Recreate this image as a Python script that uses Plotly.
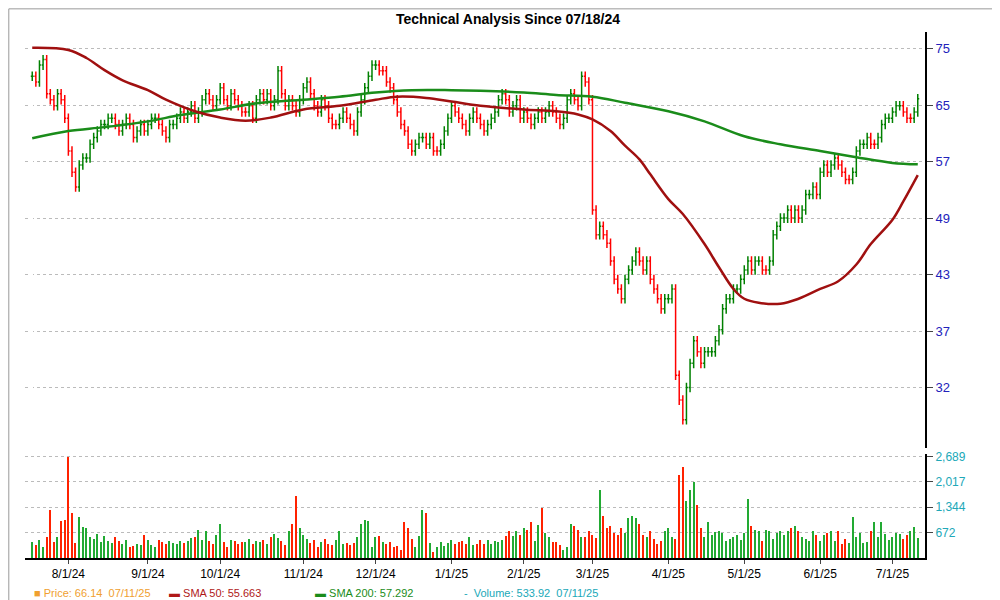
import pandas as pd
import plotly.graph_objects as go
from plotly.subplots import make_subplots

# ---- data ----
close_jul24 = [70, 69, 72, 73, 67, 66, 65, 67, 66, 63]
close_aug24 = [58, 55, 53, 56, 57, 57, 59, 60, 61, 62, 62, 63, 63, 62, 61, 62, 63, 62, 60, 61, 62, 61]
close_sep24 = [62, 63, 63, 62, 61, 60, 62, 62, 63, 64, 63, 64, 65, 63, 64, 66, 67, 66, 65, 66]
close_oct24 = [68, 66, 65, 67, 66, 65, 64, 64, 65, 63, 66, 67, 66, 67, 65, 66, 71, 67, 65, 66, 65, 64, 66]
close_nov24 = [68, 69, 67, 65, 64, 66, 65, 63, 62, 62, 63, 64, 63, 62, 61, 64, 66, 68, 70, 72]
close_dec24 = [72, 71, 71, 69, 68, 66, 64, 62, 61, 59, 58, 59, 60, 60, 59, 60, 58, 58, 59, 61, 63]
close_jan25 = [65, 64, 63, 62, 61, 63, 64, 63, 62, 61, 62, 63, 64, 66, 67, 66, 64, 65, 66, 63]
close_feb25 = [64, 63, 62, 63, 64, 63, 64, 65, 64, 63, 62, 63, 66, 67, 66, 65, 70, 69, 66]
close_mar25 = [50, 47, 48, 47, 46, 44, 42, 41, 40, 42, 43, 44, 45, 44, 43, 44, 42, 41, 40, 39, 40]
close_apr25 = [40, 41, 33, 31, 29.5, 32, 34, 36, 35, 34, 35, 35, 35, 36, 37, 39, 40, 40, 41, 41, 42]
close_may25 = [43, 44, 43, 44, 44, 43, 43, 44, 47, 48, 49, 49, 50, 49, 50, 49, 50, 52, 52, 53, 52]
close_jun25 = [55, 56, 55, 56, 57, 56, 55, 54, 54, 55, 58, 59, 59, 60, 59, 59, 60, 62, 63, 63]
close_jul25 = [64, 65, 65, 64, 63, 63, 64, 66.14]

vol_jul24 = [420, 350, 480, 300, 560, 1260, 430, 550, 980, 1000]
vol_aug24 = [2680, 1200, 400, 1080, 830, 790, 550, 500, 640, 420, 580, 450, 400, 560, 450, 380, 470, 300, 310, 380, 350, 620]
vol_sep24 = [480, 350, 300, 480, 430, 380, 450, 400, 380, 460, 400, 440, 520, 560, 750, 480, 700, 450, 360, 600]
vol_oct24 = [900, 420, 300, 480, 450, 360, 430, 420, 500, 380, 460, 420, 480, 380, 560, 640, 520, 440, 350, 700, 900, 1640, 800]
vol_nov24 = [600, 500, 400, 480, 300, 420, 500, 380, 350, 470, 720, 380, 400, 330, 400, 560, 900, 1000, 980, 300]
vol_dec24 = [560, 580, 420, 360, 430, 300, 320, 220, 960, 780, 500, 300, 580, 1280, 1200, 400, 150, 300, 420, 320, 400]
vol_jan25 = [470, 380, 420, 460, 370, 560, 350, 380, 480, 380, 470, 380, 460, 420, 480, 580, 720, 580, 700, 600]
vol_feb25 = [800, 740, 950, 450, 880, 1320, 650, 560, 430, 430, 330, 220, 300, 900, 840, 750, 550, 550, 700]
vol_mar25 = [600, 530, 1800, 1100, 800, 850, 650, 600, 800, 650, 1050, 1100, 1050, 900, 600, 550, 700, 500, 380, 450, 700]
vol_apr25 = [800, 550, 500, 2200, 2400, 1500, 1800, 2000, 1400, 800, 550, 950, 600, 680, 700, 650, 450, 500, 550, 600, 480]
vol_may25 = [650, 1550, 850, 750, 700, 450, 750, 700, 500, 650, 700, 600, 700, 800, 850, 700, 550, 500, 450, 700, 600]
vol_jun25 = [450, 620, 650, 700, 450, 700, 380, 500, 400, 1080, 550, 650, 400, 420, 700, 950, 550, 950, 640, 480]
vol_jul25 = [550, 650, 640, 500, 620, 700, 830, 534]

sma50_dates = ["2024-07-18", "2024-08-01", "2024-08-08", "2024-08-15", "2024-08-22", "2024-09-03", "2024-09-10",
               "2024-09-20", "2024-10-01", "2024-10-10", "2024-10-21", "2024-11-01", "2024-11-15", "2024-12-02",
               "2024-12-10", "2024-12-20", "2025-01-02", "2025-01-15", "2025-02-03", "2025-02-14", "2025-02-25",
               "2025-03-03", "2025-03-10", "2025-03-14", "2025-03-20", "2025-03-25", "2025-04-01", "2025-04-07",
               "2025-04-15", "2025-04-22", "2025-04-28", "2025-05-01", "2025-05-07", "2025-05-15", "2025-05-22",
               "2025-06-02", "2025-06-09", "2025-06-16", "2025-06-23", "2025-07-01", "2025-07-07", "2025-07-11"]
sma50_vals = [75.2, 74.8, 73.3, 71.1, 69.3, 67.6, 66.0, 64.1, 63.1, 62.6, 63.1, 64.4, 65.0, 66.0, 66.5, 66.3,
              65.7, 65.0, 64.4, 64.1, 63.6, 62.8, 61.0, 58.8, 56.8, 54.7, 51.4, 49.5, 45.9, 43.3, 41.0, 40.0,
              39.6, 39.5, 40.0, 41.0, 41.8, 43.6, 45.9, 48.8, 51.1, 54.6]
sma200_dates = ["2024-07-18", "2024-08-01", "2024-08-15", "2024-09-03", "2024-09-16", "2024-10-01", "2024-10-15",
                "2024-11-01", "2024-11-15", "2024-12-02", "2024-12-16", "2025-01-02", "2025-01-15", "2025-02-03",
                "2025-02-14", "2025-03-03", "2025-03-14", "2025-04-01", "2025-04-15", "2025-05-01", "2025-05-15",
                "2025-06-02", "2025-06-16", "2025-07-01", "2025-07-11"]
sma200_vals = [59.9, 61.0, 61.6, 62.5, 63.5, 64.4, 65.4, 66.0, 66.5, 67.2, 67.6, 67.6, 67.5, 67.2, 66.8, 66.5,
               65.5, 64.1, 62.5, 60.2, 59.0, 58.0, 57.1, 56.3, 56.1]

price_ticks = [32, 37, 43, 49, 57, 65, 75]
vol_ticks = [672, 1344, 2017, 2689]
vol_tick_labels = ["672", "1,344", "2,017", "2,689"]
month_ticks = ["8/1/24", "9/1/24", "10/1/24", "11/1/24", "12/1/24", "1/1/25", "2/1/25",
               "3/1/25", "4/1/25", "5/1/25", "6/1/25", "7/1/25"]

holidays = ["2024-09-02", "2024-11-28", "2024-12-25", "2025-01-01", "2025-01-09", "2025-01-20",
            "2025-02-17", "2025-04-18", "2025-05-26", "2025-06-19", "2025-07-04"]

# ---- build ----
closes = (close_jul24 + close_aug24 + close_sep24 + close_oct24 + close_nov24 + close_dec24 + close_jan25
          + close_feb25 + close_mar25 + close_apr25 + close_may25 + close_jun25 + close_jul25)
vols = (vol_jul24 + vol_aug24 + vol_sep24 + vol_oct24 + vol_nov24 + vol_dec24 + vol_jan25
        + vol_feb25 + vol_mar25 + vol_apr25 + vol_may25 + vol_jun25 + vol_jul25)
dates = [d for d in pd.bdate_range("2024-07-18", "2025-07-11") if d.strftime("%Y-%m-%d") not in holidays]
n = min(len(dates), len(closes), len(vols))
dates, closes, vols = dates[:n], closes[:n], vols[:n]
idx = list(range(n))

opens = [closes[0]] + closes[:-1]
highs = [max(o, c) * 1.012 for o, c in zip(opens, closes)]
lows = [min(o, c) * 0.988 for o, c in zip(opens, closes)]
vcol = ["#22aa33" if c >= o else "#ff2200" for o, c in zip(opens, closes)]

def pos_of(ds):
    out = []
    for s in ds:
        t = pd.Timestamp(s)
        i = next((k for k, d in enumerate(dates) if d >= t), n - 1)
        out.append(i)
    return out

r = (75 / 32) ** (1 / 6)
price_tickvals = [32 * r ** k for k in range(7)]
mtick_pos = pos_of(["2024-08-01", "2024-09-01", "2024-10-01", "2024-11-01", "2024-12-01", "2025-01-01",
                    "2025-02-01", "2025-03-01", "2025-04-01", "2025-05-01", "2025-06-01", "2025-07-01"])

fig = make_subplots(rows=2, cols=1, shared_xaxes=True, row_heights=[0.8, 0.2], vertical_spacing=0.012)
fig.add_trace(go.Ohlc(x=idx, open=opens, high=highs, low=lows, close=closes,
                      increasing=dict(line=dict(color="#008000", width=1.5)),
                      decreasing=dict(line=dict(color="#ff0000", width=1.5)),
                      tickwidth=0.4, showlegend=False), row=1, col=1)
fig.add_trace(go.Scatter(x=pos_of(sma200_dates), y=sma200_vals, mode="lines",
                         line=dict(color="#1a8c1a", width=2.5, shape="spline"), showlegend=False), row=1, col=1)
fig.add_trace(go.Scatter(x=pos_of(sma50_dates), y=sma50_vals, mode="lines",
                         line=dict(color="#a01010", width=2.5, shape="spline"), showlegend=False), row=1, col=1)
fig.add_trace(go.Bar(x=idx, y=vols, marker=dict(color=vcol, line_width=0), width=0.35, showlegend=False),
              row=2, col=1)

fig.update_layout(
    width=1000, height=600, paper_bgcolor="white", plot_bgcolor="white",
    margin=dict(l=17, r=83, t=24, b=50),
    title=dict(text="<b>Technical Analysis Since 07/18/24</b>", x=0.5, y=0.982, yanchor="middle", xanchor="center",
               font=dict(family="Arial, Liberation Sans", size=14, color="black")),
    font=dict(family="Arial, Liberation Sans", size=12),
    bargap=0,
)
fig.update_xaxes(range=[-2, n + 1], showgrid=False, rangeslider_visible=False, row=1, col=1,
                 tickvals=mtick_pos, showticklabels=False)
fig.update_xaxes(range=[-2, n + 1], showgrid=False, tickvals=mtick_pos, ticktext=month_ticks,
                 ticks="outside", ticklen=4, showline=True, linecolor="black", linewidth=2,
                 tickfont=dict(color="black", size=12), row=2, col=1)
fig.update_yaxes(type="log", side="right", range=[1.4393, 1.8935],
                 tickvals=price_tickvals, ticktext=[str(v) for v in price_ticks],
                 tickfont=dict(color="#2222bb", size=13), showgrid=True, gridcolor="#bbbbbb", griddash="dot",
                 showline=True, linecolor="black", linewidth=2, ticks="outside", ticklen=6, row=1, col=1)
fig.update_yaxes(side="right", range=[0, 2750], tickvals=vol_ticks, ticktext=vol_tick_labels,
                 tickfont=dict(color="#20a8b8", size=12), showgrid=True, gridcolor="#bbbbbb", griddash="dot",
                 showline=True, linecolor="black", linewidth=2, ticks="outside", ticklen=6, row=2, col=1)

anns = [("■ Price: 66.14  07/11/25", "#f0a030", 0.008),
        ("▬ SMA 50: 55.663", "#b01818", 0.158),
        ("▬ SMA 200: 57.292", "#1a8c1a", 0.32),
        ("-  Volume: 533.92  07/11/25", "#20a8b8", 0.485)]
for t, c, xp in anns:
    fig.add_annotation(text=t, xref="paper", yref="paper", x=xp, y=-0.066, xanchor="left", yanchor="middle",
                       showarrow=False, font=dict(color=c, size=11))
fig.add_shape(type="rect", xref="paper", yref="paper", x0=-0.018, y0=-0.09, x1=1.08, y1=1.044,
              line=dict(color="#999999", width=1))
fig.write_html("out.html")
